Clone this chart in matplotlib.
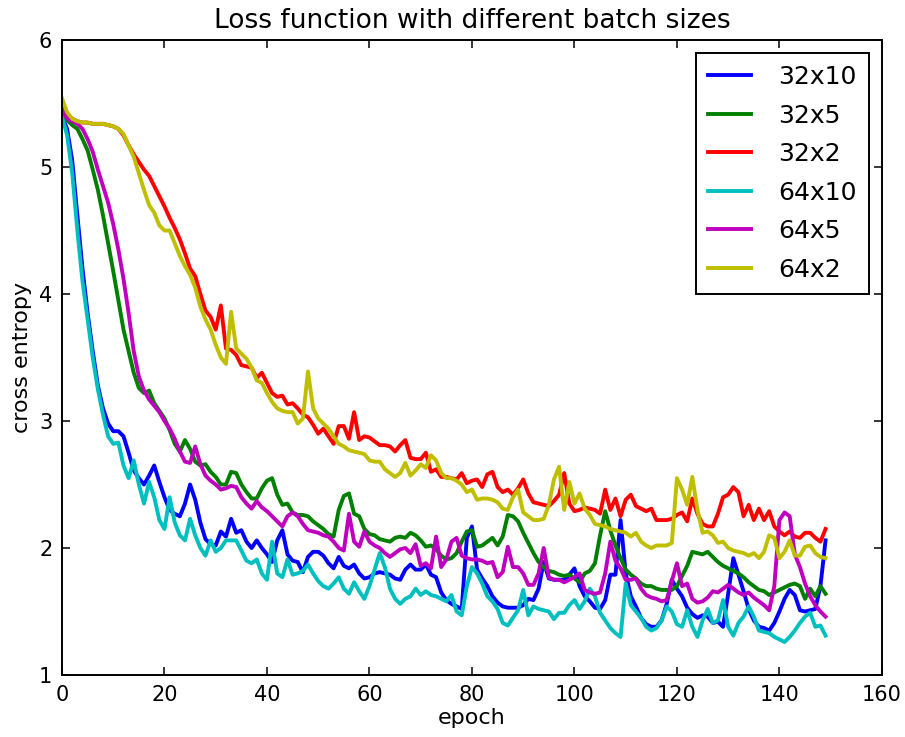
# =========================================
# Loss curves for different batch sizes
# =========================================
import matplotlib
matplotlib.use("Agg")
import matplotlib.pyplot as plt
import numpy as np

# =========================================
# DATA (cross entropy per epoch)
# =========================================
epochs = np.arange(150)

labels = ["32x10", "32x5", "32x2", "64x10", "64x5", "64x2"]

loss_32x10 = [
    5.40, 5.30, 5.05, 4.62, 4.20, 3.85, 3.55, 3.28, 3.10, 2.98,
    2.92, 2.92, 2.88, 2.75, 2.61, 2.55, 2.50, 2.57, 2.65, 2.52,
    2.40, 2.30, 2.27, 2.25, 2.35, 2.50, 2.38, 2.20, 2.07, 2.03,
    2.02, 2.13, 2.09, 2.23, 2.12, 2.14, 2.05, 2.00, 2.06, 2.00,
    1.95, 1.89, 2.06, 2.14, 1.95, 1.90, 1.89, 1.81, 1.93, 1.97,
    1.97, 1.94, 1.88, 1.84, 1.93, 1.86, 1.84, 1.87, 1.80, 1.76,
    1.77, 1.80, 1.81, 1.80, 1.79, 1.76, 1.75, 1.83, 1.87, 1.83,
    1.83, 1.87, 1.79, 1.77, 1.65, 1.59, 1.56, 1.54, 1.52, 2.08,
    2.17, 1.83, 1.76, 1.70, 1.62, 1.57, 1.54, 1.53, 1.53, 1.53,
    1.55, 1.60, 1.59, 1.68, 1.89, 1.76, 1.75, 1.75, 1.75, 1.79,
    1.84, 1.70, 1.62, 1.58, 1.53, 1.52, 1.59, 1.79, 1.79, 2.22,
    1.80, 1.62, 1.54, 1.45, 1.40, 1.38, 1.38, 1.43, 1.56, 1.75,
    1.68, 1.62, 1.53, 1.48, 1.45, 1.47, 1.46, 1.41, 1.42, 1.38,
    1.64, 1.92, 1.79, 1.66, 1.52, 1.43, 1.38, 1.37, 1.35, 1.41,
    1.50, 1.60, 1.67, 1.63, 1.51, 1.50, 1.51, 1.52, 1.70, 2.06,
]

loss_32x5 = [
    5.42, 5.37, 5.33, 5.30, 5.22, 5.13, 4.98, 4.82, 4.62, 4.40,
    4.18, 3.95, 3.72, 3.55, 3.38, 3.26, 3.22, 3.24, 3.14, 3.08,
    3.02, 2.93, 2.82, 2.76, 2.85, 2.78, 2.68, 2.65, 2.66, 2.60,
    2.56, 2.50, 2.50, 2.60, 2.59, 2.50, 2.44, 2.39, 2.39, 2.47,
    2.53, 2.55, 2.42, 2.34, 2.35, 2.28, 2.26, 2.26, 2.25, 2.21,
    2.18, 2.15, 2.11, 2.09, 2.30, 2.41, 2.43, 2.27, 2.25, 2.15,
    2.11, 2.10, 2.07, 2.06, 2.05, 2.08, 2.09, 2.08, 2.12, 2.10,
    2.06, 2.01, 2.02, 1.99, 1.94, 1.91, 1.92, 1.96, 2.05, 2.13,
    2.14, 2.01, 2.02, 2.05, 2.08, 2.02, 2.09, 2.26, 2.25, 2.21,
    2.12, 2.04, 1.96, 1.89, 1.85, 1.82, 1.81, 1.79, 1.78, 1.79,
    1.76, 1.73, 1.80, 1.82, 1.88, 2.10, 2.29, 2.14, 2.02, 1.92,
    1.83, 1.79, 1.76, 1.72, 1.70, 1.70, 1.68, 1.67, 1.67, 1.67,
    1.70, 1.78, 1.86, 1.97, 1.96, 1.95, 1.97, 1.93, 1.89, 1.86,
    1.84, 1.82, 1.80, 1.77, 1.73, 1.70, 1.67, 1.66, 1.63, 1.65,
    1.67, 1.69, 1.71, 1.72, 1.70, 1.60, 1.68, 1.62, 1.70, 1.64,
]

loss_32x2 = [
    5.50, 5.42, 5.38, 5.36, 5.35, 5.35, 5.34, 5.34, 5.34, 5.33,
    5.32, 5.30, 5.25, 5.17, 5.10, 5.04, 4.98, 4.93, 4.85, 4.77,
    4.69, 4.60, 4.52, 4.43, 4.32, 4.20, 4.14, 4.00, 3.87, 3.82,
    3.72, 3.91, 3.57, 3.56, 3.52, 3.44, 3.43, 3.42, 3.34, 3.38,
    3.30, 3.22, 3.19, 3.20, 3.13, 3.14, 3.10, 3.05, 3.03, 2.97,
    2.90, 2.94, 2.88, 2.82, 2.96, 2.96, 2.86, 3.07, 2.85, 2.88,
    2.87, 2.84, 2.81, 2.81, 2.80, 2.76, 2.81, 2.85, 2.71, 2.70,
    2.70, 2.75, 2.60, 2.62, 2.56, 2.56, 2.55, 2.54, 2.59, 2.51,
    2.53, 2.54, 2.48, 2.58, 2.60, 2.48, 2.44, 2.46, 2.42, 2.47,
    2.54, 2.43, 2.36, 2.35, 2.34, 2.33, 2.37, 2.42, 2.59, 2.35,
    2.29, 2.30, 2.32, 2.31, 2.30, 2.27, 2.46, 2.30, 2.39, 2.25,
    2.38, 2.42, 2.33, 2.31, 2.29, 2.31, 2.22, 2.22, 2.22, 2.23,
    2.26, 2.28, 2.21, 2.39, 2.27, 2.19, 2.17, 2.17, 2.27, 2.40,
    2.42, 2.48, 2.44, 2.25, 2.34, 2.22, 2.31, 2.22, 2.29, 2.17,
    2.13, 2.10, 2.13, 2.09, 2.08, 2.12, 2.12, 2.08, 2.05, 2.15,
]

loss_64x10 = [
    5.40, 5.25, 4.95, 4.50, 4.10, 3.80, 3.50, 3.25, 3.05, 2.88,
    2.82, 2.83, 2.65, 2.55, 2.69, 2.50, 2.35, 2.52, 2.40, 2.22,
    2.15, 2.40, 2.20, 2.10, 2.06, 2.23, 2.10, 2.00, 1.94, 2.06,
    1.97, 2.00, 2.06, 2.06, 2.06, 1.98, 1.90, 1.88, 1.91, 1.80,
    1.75, 2.05, 1.80, 1.77, 1.91, 1.79, 1.80, 1.82, 1.87, 1.80,
    1.74, 1.70, 1.68, 1.72, 1.77, 1.68, 1.64, 1.73, 1.66, 1.60,
    1.70, 1.83, 1.96, 1.85, 1.68, 1.60, 1.56, 1.60, 1.62, 1.68,
    1.63, 1.66, 1.63, 1.62, 1.60, 1.58, 1.63, 1.50, 1.47, 1.70,
    1.85, 1.80, 1.72, 1.62, 1.58, 1.52, 1.41, 1.39, 1.45, 1.51,
    1.67, 1.47, 1.54, 1.52, 1.51, 1.50, 1.44, 1.49, 1.49, 1.55,
    1.59, 1.52, 1.58, 1.68, 1.62, 1.49, 1.43, 1.37, 1.33, 1.30,
    1.72, 1.55, 1.50, 1.45, 1.38, 1.35, 1.37, 1.43, 1.54, 1.50,
    1.40, 1.38, 1.51, 1.38, 1.30, 1.43, 1.52, 1.41, 1.43, 1.59,
    1.38, 1.31, 1.41, 1.46, 1.54, 1.46, 1.35, 1.34, 1.33, 1.30,
    1.28, 1.26, 1.30, 1.35, 1.41, 1.46, 1.49, 1.38, 1.39, 1.31,
]

loss_64x5 = [
    5.45, 5.38, 5.36, 5.34, 5.30, 5.22, 5.12, 4.98, 4.85, 4.72,
    4.55, 4.35, 4.12, 3.85, 3.55, 3.35, 3.24, 3.17, 3.12, 3.07,
    3.00, 2.94, 2.86, 2.76, 2.68, 2.67, 2.80, 2.66, 2.57, 2.53,
    2.50, 2.46, 2.47, 2.49, 2.48, 2.40, 2.35, 2.31, 2.37, 2.32,
    2.29, 2.25, 2.21, 2.17, 2.25, 2.28, 2.25, 2.19, 2.14, 2.13,
    2.12, 2.10, 2.09, 2.05, 2.00, 1.98, 2.27, 2.05, 2.01, 2.13,
    2.05, 2.02, 2.00, 1.96, 1.93, 1.96, 1.99, 2.00, 1.96, 2.03,
    1.86, 1.88, 1.84, 2.09, 1.85, 1.91, 2.05, 2.08, 1.94, 1.92,
    1.91, 1.91, 1.90, 1.88, 1.89, 1.77, 1.81, 2.01, 1.85, 1.85,
    1.80, 1.71, 1.71, 1.80, 2.00, 1.77, 1.75, 1.75, 1.73, 1.75,
    1.77, 1.80, 1.67, 1.65, 1.64, 1.65, 1.80, 2.05, 1.90, 1.84,
    1.75, 1.75, 1.76, 1.68, 1.63, 1.61, 1.60, 1.58, 1.59, 1.74,
    1.88, 1.70, 1.72, 1.60, 1.57, 1.58, 1.61, 1.66, 1.65, 1.68,
    1.71, 1.68, 1.65, 1.63, 1.65, 1.61, 1.58, 1.55, 1.51, 1.70,
    2.22, 2.28, 2.25, 1.95, 1.85, 1.72, 1.62, 1.55, 1.50, 1.46,
]

loss_64x2 = [
    5.54, 5.43, 5.38, 5.36, 5.35, 5.35, 5.34, 5.34, 5.34, 5.33,
    5.32, 5.30, 5.26, 5.17, 5.08, 4.95, 4.82, 4.70, 4.64, 4.54,
    4.50, 4.50, 4.40, 4.30, 4.22, 4.15, 4.05, 3.90, 3.80, 3.72,
    3.60, 3.50, 3.45, 3.86, 3.57, 3.53, 3.49, 3.42, 3.32, 3.30,
    3.22, 3.15, 3.10, 3.08, 3.07, 3.07, 2.98, 3.02, 3.39, 3.10,
    3.02, 2.98, 2.94, 2.88, 2.82, 2.80, 2.77, 2.76, 2.75, 2.74,
    2.69, 2.68, 2.68, 2.62, 2.59, 2.56, 2.59, 2.67, 2.57, 2.61,
    2.66, 2.63, 2.73, 2.69, 2.59, 2.55, 2.55, 2.53, 2.50, 2.44,
    2.46, 2.38, 2.39, 2.39, 2.38, 2.36, 2.31, 2.30, 2.40, 2.46,
    2.28, 2.25, 2.22, 2.22, 2.23, 2.34, 2.54, 2.64, 2.30, 2.52,
    2.35, 2.43, 2.31, 2.26, 2.19, 2.18, 2.17, 2.15, 2.14, 2.13,
    2.12, 2.09, 2.12, 2.05, 2.02, 2.00, 2.02, 2.02, 2.02, 2.04,
    2.55, 2.46, 2.34, 2.56, 2.30, 2.12, 2.13, 2.10, 2.04, 2.05,
    2.00, 1.98, 1.97, 1.96, 1.94, 1.96, 1.92, 1.97, 2.10, 2.08,
    1.92, 1.97, 2.06, 1.94, 1.94, 2.01, 2.02, 1.96, 1.93, 1.92,
]

series = [loss_32x10, loss_32x5, loss_32x2, loss_64x10, loss_64x5, loss_64x2]

# warna klasik matplotlib (b, g, r, c, m, y)
colors = ["#0000ff", "#008000", "#ff0000", "#00bfbf", "#bf00bf", "#bfbf00"]

# =========================================
# PLOT
# =========================================
plt.rcParams["font.family"] = "DejaVu Sans"

fig = plt.figure(figsize=(9.05, 7.37), dpi=100)
ax = fig.add_axes([0.0685, 0.0841, 0.906, 0.8616])

for values, color, label in zip(series, colors, labels):
    ax.plot(epochs, values, color=color, linewidth=2.8, label=label)

ax.set_xlim(0, 160)
ax.set_ylim(1, 6)
ax.set_xticks(np.arange(0, 161, 20))
ax.set_yticks(np.arange(1, 7, 1))

ax.tick_params(direction="in", top=True, right=True, length=5.5, width=1.1,
               labelsize=15, pad=7)
for spine in ax.spines.values():
    spine.set_linewidth(1.4)

ax.set_title("Loss function with different batch sizes", fontsize=19, pad=9)
ax.set_xlabel("epoch", fontsize=16, labelpad=2)
ax.set_ylabel("cross entropy", fontsize=16, labelpad=5)

leg = ax.legend(loc="upper right", fontsize=18, fancybox=False, framealpha=1,
                edgecolor="black", handlelength=1.7, handletextpad=1.1,
                labelspacing=0.58, borderpad=0.5, borderaxespad=0.5)
leg.get_frame().set_linewidth(1.4)
for line in leg.get_lines():
    line.set_linewidth(2.8)

fig.savefig("out.png", dpi=100)
